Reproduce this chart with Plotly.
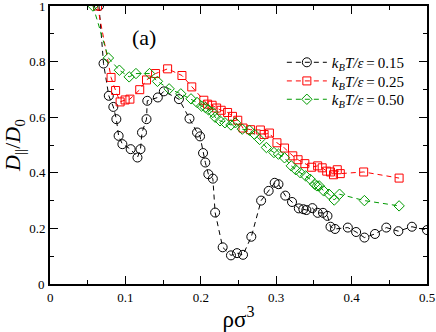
import plotly.graph_objects as go

# kT = 0.15
x_015 = [0.065, 0.071, 0.078, 0.084, 0.088, 0.091, 0.096, 0.107, 0.116, 0.120, 0.122, 0.128, 0.129,
         0.143, 0.151, 0.171, 0.185, 0.195, 0.199, 0.203, 0.206, 0.210, 0.216, 0.219, 0.229, 0.240,
         0.248, 0.256, 0.267, 0.280, 0.290, 0.298, 0.303, 0.312, 0.321, 0.330, 0.336, 0.340, 0.348,
         0.355, 0.362, 0.368, 0.372, 0.378, 0.395, 0.406, 0.417, 0.431, 0.446, 0.462, 0.480, 0.500]
y_015 = [1.0, 0.793, 0.677, 0.637, 0.593, 0.533, 0.503, 0.485, 0.455, 0.485, 0.545, 0.593, 0.659,
         0.671, 0.693, 0.665, 0.595, 0.545, 0.531, 0.471, 0.437, 0.395, 0.379, 0.257, 0.132, 0.103,
         0.111, 0.105, 0.170, 0.300, 0.335, 0.364, 0.359, 0.318, 0.295, 0.272, 0.269, 0.266, 0.273,
         0.256, 0.256, 0.245, 0.206, 0.198, 0.203, 0.187, 0.167, 0.180, 0.203, 0.190, 0.206, 0.194]

# kT = 0.25
x_025 = [0.063, 0.081, 0.087, 0.093, 0.0996, 0.106, 0.119, 0.128, 0.140, 0.156, 0.175, 0.188, 0.204,
         0.209, 0.215, 0.221, 0.227, 0.2355, 0.242, 0.249, 0.256, 0.266, 0.279, 0.284, 0.291, 0.301,
         0.311, 0.322, 0.329, 0.338, 0.347, 0.355, 0.361, 0.367, 0.372, 0.376, 0.381, 0.385, 0.416, 0.463]
y_025 = [1.0, 0.743, 0.696, 0.655, 0.662, 0.665, 0.699, 0.734, 0.757, 0.774, 0.750, 0.709, 0.661,
         0.647, 0.643, 0.633, 0.625, 0.617, 0.603, 0.589, 0.561, 0.555, 0.554, 0.538, 0.543, 0.508,
         0.489, 0.461, 0.447, 0.433, 0.420, 0.425, 0.418, 0.406, 0.403, 0.393, 0.411, 0.397, 0.403, 0.381]

# kT = 0.50
x_050 = [0.057, 0.0775, 0.092, 0.105, 0.114, 0.132, 0.1425, 0.158, 0.1735, 0.187, 0.195, 0.201, 0.206,
         0.210, 0.216, 0.219, 0.2255, 0.232, 0.240, 0.246, 0.255, 0.2645, 0.271, 0.278, 0.287, 0.297,
         0.303, 0.311, 0.320, 0.326, 0.332, 0.339, 0.345, 0.351, 0.354, 0.357, 0.363, 0.370, 0.377,
         0.384, 0.417, 0.463]
y_050 = [1.0, 0.813, 0.769, 0.745, 0.757, 0.757, 0.729, 0.702, 0.684, 0.666, 0.653, 0.640, 0.635,
         0.627, 0.617, 0.600, 0.587, 0.580, 0.572, 0.580, 0.557, 0.553, 0.539, 0.520, 0.491, 0.473,
         0.467, 0.454, 0.425, 0.411, 0.400, 0.389, 0.377, 0.359, 0.353, 0.353, 0.335, 0.323, 0.302,
         0.323, 0.300, 0.281]

temps = ["0.15", "0.25", "0.50"]
names = ["<i>k<sub>B</sub>T/ε</i>\u2009=\u2009" + t for t in temps]

# tick positions (the corner "0" labels are added as annotations below)
x_ticks = [0.1, 0.2, 0.3, 0.4, 0.5]
x_minor = [0.05, 0.15, 0.25, 0.35, 0.45]
y_ticks = [0.2, 0.4, 0.6, 0.8, 1.0]
y_minor = [0.1, 0.3, 0.5, 0.7, 0.9]

FONT = "Liberation Serif"

fig = go.Figure()
fig.add_trace(go.Scatter(x=x_015, y=y_015, mode='lines+markers', name=names[0], legend='legend2',
                         line=dict(color='black', width=1, dash='5px,4px'),
                         marker=dict(symbol='circle-open', size=9, color='black', line=dict(width=1))))
fig.add_trace(go.Scatter(x=x_025, y=y_025, mode='lines+markers', name=names[1], legend='legend3',
                         line=dict(color='red', width=1, dash='5px,4px'),
                         marker=dict(symbol='square-open', size=8, color='red', line=dict(width=1))))
fig.add_trace(go.Scatter(x=x_050, y=y_050, mode='lines+markers', name=names[2], legend='legend4',
                         line=dict(color='#009a00', width=1, dash='5px,4px'),
                         marker=dict(symbol='diamond-open', size=8, color='#009a00', line=dict(width=1))))

axis_common = dict(showgrid=False, zeroline=False, showline=True, linecolor='black', linewidth=2,
                   mirror='allticks', ticks='inside', ticklen=8, tickwidth=1, tickcolor='black',
                   ticklabeloverflow='allow', automargin=False, tickmode='array',
                   tickfont=dict(family=FONT, size=13, color='black'))

fig.update_xaxes(range=[0, 0.5], tickvals=x_ticks,
                 minor=dict(tickmode='array', tickvals=x_minor, ticks='inside', ticklen=4, tickcolor='black'),
                 title=dict(text='ρσ<sup>3</sup>', font=dict(family=FONT, size=23, color='black')),
                 **axis_common)
fig.update_yaxes(range=[0, 1], tickvals=y_ticks,
                 minor=dict(tickmode='array', tickvals=y_minor, ticks='inside', ticklen=4, tickcolor='black'),
                 title=dict(text='<i>D</i><sub>||</sub>/<i>D</i><sub>0</sub>',
                            font=dict(family=FONT, size=22, color='black')),
                 **axis_common)

# "0" labels at the corner
fig.add_annotation(x=0, y=0, xref='paper', yref='y', text='0', showarrow=False,
                   xanchor='right', yanchor='middle', xshift=-3,
                   font=dict(family=FONT, size=13, color='black'))
fig.add_annotation(x=0, y=0, xref='x', yref='paper', text='0', showarrow=False,
                   xanchor='center', yanchor='top', yshift=-4,
                   font=dict(family=FONT, size=13, color='black'))
fig.add_annotation(x=0.125, y=0.885, xref='x', yref='y', text='(a)', showarrow=False,
                   font=dict(family=FONT, size=22, color='black'))

leg = dict(x=0.615, xanchor='left', yanchor='top', bgcolor='rgba(0,0,0,0)',
           font=dict(family=FONT, size=15, color='black'), itemwidth=40)
fig.update_layout(width=436, height=332, margin=dict(l=50, r=9, t=6, b=48),
                  plot_bgcolor='white', paper_bgcolor='white',
                  legend2=dict(y=0.856, **leg),
                  legend3=dict(y=0.789, **leg),
                  legend4=dict(y=0.723, **leg),
                  showlegend=True)

fig.write_html("out.html", config={'displayModeBar': False},
               post_script="document.body.style.margin='0';")
